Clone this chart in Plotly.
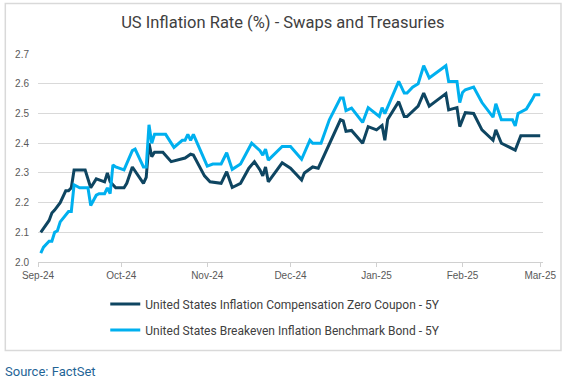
import plotly.graph_objects as go

# ---- data ----
zc_dates = ["2024-09-02","2024-09-05","2024-09-06","2024-09-07","2024-09-09","2024-09-11","2024-09-12","2024-09-13",
            "2024-09-14","2024-09-18","2024-09-20","2024-09-22","2024-09-25","2024-09-26","2024-09-27","2024-09-29",
            "2024-10-02","2024-10-03","2024-10-05","2024-10-09","2024-10-10","2024-10-11","2024-10-12","2024-10-13",
            "2024-10-16","2024-10-19","2024-10-24","2024-10-26","2024-10-27","2024-10-31","2024-11-02","2024-11-06",
            "2024-11-08","2024-11-10","2024-11-13","2024-11-16","2024-11-18","2024-11-20","2024-11-21","2024-11-22",
            "2024-11-23","2024-11-28","2024-12-01","2024-12-05","2024-12-06","2024-12-09","2024-12-11","2024-12-15",
            "2024-12-17","2024-12-19","2024-12-20","2024-12-21","2024-12-23","2024-12-27","2024-12-29","2024-12-31",
            "2025-01-01","2025-01-03","2025-01-04","2025-01-05","2025-01-09","2025-01-11","2025-01-12","2025-01-16",
            "2025-01-18","2025-01-20","2025-01-26","2025-01-27","2025-01-30","2025-01-31","2025-02-02","2025-02-05",
            "2025-02-08","2025-02-12","2025-02-13","2025-02-15","2025-02-20","2025-02-22","2025-03-01"]
zc_values = [2.10,2.14,2.165,2.175,2.20,2.24,2.24,2.25,
             2.31,2.31,2.25,2.28,2.27,2.30,2.27,2.25,
             2.25,2.265,2.32,2.265,2.285,2.40,2.355,2.37,
             2.37,2.338,2.35,2.363,2.36,2.29,2.27,2.265,
             2.304,2.251,2.265,2.316,2.338,2.31,2.29,2.32,
             2.27,2.334,2.316,2.276,2.30,2.32,2.316,2.40,
             2.443,2.479,2.475,2.44,2.443,2.40,2.456,2.45,
             2.445,2.46,2.41,2.48,2.54,2.49,2.49,2.525,
             2.569,2.525,2.567,2.512,2.52,2.456,2.503,2.50,
             2.445,2.41,2.445,2.40,2.377,2.425,2.425]

be_dates = ["2024-09-02","2024-09-03","2024-09-05","2024-09-06","2024-09-07","2024-09-08","2024-09-09","2024-09-11",
            "2024-09-12","2024-09-13","2024-09-14","2024-09-16","2024-09-19","2024-09-20","2024-09-22","2024-09-23",
            "2024-09-25","2024-09-26","2024-09-27","2024-09-28","2024-09-29","2024-10-02","2024-10-05","2024-10-06",
            "2024-10-09","2024-10-10","2024-10-11","2024-10-12","2024-10-13","2024-10-17","2024-10-20","2024-10-23",
            "2024-10-24","2024-10-25","2024-10-26","2024-10-27","2024-11-01","2024-11-03","2024-11-06","2024-11-08",
            "2024-11-10","2024-11-13","2024-11-16","2024-11-17","2024-11-20","2024-11-21","2024-11-22","2024-11-23",
            "2024-11-28","2024-12-01","2024-12-05","2024-12-08","2024-12-09","2024-12-12","2024-12-15","2024-12-17",
            "2024-12-19","2024-12-20","2024-12-21","2024-12-23","2024-12-27","2024-12-29","2025-01-01","2025-01-02",
            "2025-01-03","2025-01-04","2025-01-09","2025-01-11","2025-01-12","2025-01-14","2025-01-16","2025-01-18",
            "2025-01-20","2025-01-26","2025-01-27","2025-01-30","2025-01-31","2025-02-01","2025-02-02","2025-02-05",
            "2025-02-08","2025-02-12","2025-02-13","2025-02-15","2025-02-19","2025-02-20","2025-02-21","2025-02-24",
            "2025-02-26","2025-02-27","2025-03-01"]
be_values = [2.03,2.05,2.07,2.07,2.10,2.105,2.135,2.16,
             2.17,2.17,2.26,2.25,2.25,2.19,2.225,2.23,
             2.23,2.25,2.23,2.327,2.32,2.31,2.375,2.38,
             2.32,2.32,2.462,2.40,2.43,2.43,2.386,2.41,
             2.41,2.43,2.41,2.43,2.323,2.33,2.33,2.368,
             2.312,2.33,2.386,2.40,2.375,2.36,2.38,2.343,
             2.389,2.389,2.346,2.41,2.40,2.40,2.479,2.518,
             2.552,2.552,2.51,2.518,2.47,2.52,2.496,2.49,
             2.52,2.50,2.608,2.569,2.569,2.589,2.60,2.661,
             2.62,2.661,2.608,2.608,2.537,2.571,2.58,2.589,
             2.537,2.488,2.533,2.479,2.479,2.458,2.50,2.515,
             2.546,2.563,2.563]

series_names = ["United States Inflation Compensation Zero Coupon - 5Y",
                "United States Breakeven Inflation Benchmark Bond - 5Y"]
tick_dates = ["2024-09-01","2024-10-01","2024-11-01","2024-12-01","2025-01-01","2025-02-01","2025-03-01"]
tick_labels = ["Sep-24","Oct-24","Nov-24","Dec-24","Jan-25","Feb-25","Mar-25"]
y_ticks = [2.0, 2.1, 2.2, 2.3, 2.4, 2.5, 2.6, 2.7]

DARK = "#0e4561"
LIGHT = "#00b0ef"

fig = go.Figure()
fig.add_trace(go.Scatter(x=zc_dates, y=zc_values, mode="lines", name=series_names[0],
                         legendgroup="a", line=dict(color=DARK, width=3)))
fig.add_trace(go.Scatter(x=be_dates, y=be_values, mode="lines", name=series_names[1],
                         legendgroup="b", line=dict(color=LIGHT, width=3)))

L, R, T, B = 37.7, 26, 54.4, 119.3
W, H = 569, 381
pw, ph = W - L - R, H - T - B

def px_x(p):
    return (p - L) / pw

def px_y(p):
    return (H - B - p) / ph

fig.update_layout(
    width=W, height=H,
    margin=dict(l=L, r=R, t=T, b=B, autoexpand=False),
    paper_bgcolor="white", plot_bgcolor="white",
    title=dict(text="US Inflation Rate (%) - Swaps and Treasuries",
               x=0.497, xanchor="center", y=1 - 22 / H, yanchor="middle",
               font=dict(family="Roboto", size=16.5, color="#404040")),
    showlegend=True,
    legend=dict(orientation="v", x=px_x(105), xanchor="left", y=px_y(289), yanchor="top",
                font=dict(family="Roboto", size=12, color="#404040"),
                tracegroupgap=7, bgcolor="rgba(0,0,0,0)"),
    xaxis=dict(type="date", range=["2024-09-01", "2025-03-02"],
               tickmode="array", tickvals=tick_dates, ticktext=tick_labels,
               showgrid=False, showline=True, linecolor="#d0d0d0", linewidth=1,
               ticks="outside", ticklen=4, tickcolor="#d0d0d0",
               tickfont=dict(family="Liberation Sans", size=10, color="#595959"),
               zeroline=False),
    yaxis=dict(range=[2.0, 2.7005], tickmode="array", tickvals=y_ticks,
               ticktext=[f"{v:.1f}" for v in y_ticks],
               showgrid=True, gridcolor="#d9d9d9", gridwidth=1,
               showline=False, zeroline=False, ticks="", ticklabelstandoff=8,
               tickfont=dict(family="Liberation Sans", size=10, color="#595959")),
    shapes=[dict(type="rect", xref="paper", yref="paper",
                 x0=px_x(5), x1=px_x(561), y0=px_y(350), y1=px_y(4),
                 line=dict(color="#d9d9d9", width=1.5), fillcolor="rgba(0,0,0,0)", layer="below")],
    annotations=[dict(text="Source: FactSet", xref="paper", yref="paper",
                      x=px_x(3), xanchor="left", y=px_y(371), yanchor="middle", showarrow=False,
                      font=dict(family="Roboto", size=13, color="#1f6496"))],
)

fig.write_html("out.html", config={"displayModeBar": False},
               post_script="document.body.style.margin='0';document.body.style.padding='0';")
